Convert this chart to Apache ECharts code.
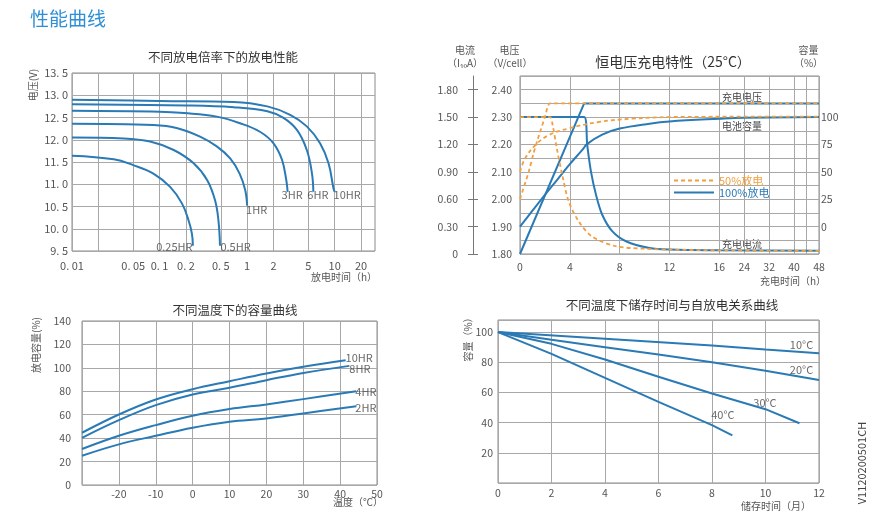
<!DOCTYPE html>
<html><head><meta charset="utf-8">
<script src="https://cdn.jsdelivr.net/npm/echarts@6/dist/echarts.min.js"></script>
<style>html,body{margin:0;padding:0;background:#fff}#c{width:880px;height:518px}</style>
</head><body><div id="c"></div>
<script>
// ================= DATA =================
// Chart 1: 不同放电倍率下的放电性能  [hours, volts]
const rateNames = ['0.25HR', '0.5HR', '1HR', '3HR', '6HR', '10HR'];
const dis025 = [[0.01,11.64],[0.03,11.56],[0.05,11.43],[0.085,11.24],[0.132,10.94],[0.18,10.57],[0.214,10.19],[0.234,9.89],[0.24,9.62]];
const dis05  = [[0.01,12.05],[0.039,12.03],[0.078,11.96],[0.145,11.77],[0.245,11.47],[0.35,11.09],[0.43,10.64],[0.47,10.19],[0.49,9.62]];
const dis1   = [[0.01,12.36],[0.085,12.33],[0.16,12.26],[0.29,12.07],[0.45,11.85],[0.64,11.58],[0.82,11.24],[0.95,10.87],[1.0,10.52]];
const dis3   = [[0.01,12.65],[0.1,12.63],[0.19,12.60],[0.45,12.52],[0.83,12.37],[1.4,12.18],[2.0,11.92],[2.5,11.55],[2.8,11.09],[2.9,10.83]];
const dis6   = [[0.01,12.80],[0.2,12.77],[0.7,12.73],[1.7,12.64],[2.6,12.49],[3.7,12.22],[4.8,11.77],[5.5,11.24],[5.7,10.83]];
const dis10  = [[0.01,12.90],[0.1,12.87],[0.7,12.85],[1.7,12.75],[3.1,12.56],[4.8,12.30],[6.8,11.92],[8.5,11.47],[9.7,10.90],[10,10.83]];
const disTickHours  = [0.01, 0.02, 0.05, 0.1, 0.2, 0.5, 1, 2, 5, 10, 20];
const disLabelHours = [0.01, 0.05, 0.1, 0.2, 0.5, 1, 2, 5, 10, 20];

// Chart 2: 恒电压充电特性(25°C)  [hours, value]
const volt50 = [[0,2.00],[0.35,2.05],[0.7,2.10],[1.1,2.17],[1.5,2.23],[2.0,2.30],[2.4,2.35],[48,2.35]];
const curr50 = [[0,1.5],[2.4,1.5],[2.6,1.43],[2.95,1.16],[3.4,0.86],[3.9,0.58],[4.7,0.36],[5.8,0.19],[7.7,0.085],[10,0.058],[12,0.048],[16,0.04],[48,0.035]];
const cap50  = [[0,50],[0.4,62],[1.2,74],[2.3,83.5],[3.9,89.6],[6.3,95.5],[9,98.5],[12,100],[16,100.3],[48,100.5]];
const volt100 = [[0,1.80],[5.15,2.35],[48,2.35]];
const curr100 = [[0,1.5],[5.15,1.5],[5.4,1.19],[5.7,0.90],[6.1,0.65],[6.6,0.43],[7.4,0.25],[8.5,0.14],[10.4,0.065],[12,0.048],[16,0.04],[48,0.035]];
const cap100  = [[0,0],[1,14.5],[2,29],[3,43],[4,57],[5,70],[5.4,75.5],[6.6,84],[8,89.5],[10.4,94],[12,96],[16,98.5],[24,99.4],[48,100]];
const chgTickHours  = [0, 4, 8, 12, 16, 24, 32, 40, 44, 48];
const chgLabelHours = [0, 4, 8, 12, 16, 24, 32, 40, 48];
const currTicks = [0, 0.3, 0.6, 0.9, 1.2, 1.5, 1.8];
const capTicks  = [0, 25, 50, 75, 100];

// Chart 3: 不同温度下的容量曲线  [°C, %]
const tempNames = ['10HR', '8HR', '4HR', '2HR'];
const tc10 = [[-30,44.6],[-20,60.2],[-10,73],[0,81.8],[10,88.6],[20,95.2],[30,100.9],[41.5,106.5]];
const tc8  = [[-30,40.3],[-20,55.4],[-10,68.2],[0,77.3],[10,83],[20,89.5],[30,95.7],[42.5,101.7]];
const tc4  = [[-30,30.7],[-20,42],[-10,51.1],[0,59.1],[10,64.8],[20,68.8],[30,73.3],[44.4,80.1]];
const tc2  = [[-30,25],[-20,34.7],[-10,42],[0,48.9],[10,54],[20,56.8],[30,61.1],[44.4,67.3]];

// Chart 4: 不同温度下储存时间与自放电关系曲线  [month, %]
const sdNames = ['10°C', '20°C', '30°C', '40°C'];
const sd10 = [[0,100],[4,95.6],[8,91.1],[10,88.4],[12,86]];
const sd20 = [[0,100],[2,94.9],[4,90],[6,85.1],[8,80],[10,74.4],[12,68.2]];
const sd30 = [[0,100],[2,92.2],[4,81.8],[6,70.4],[8,59.3],[10,48.9],[11.27,39.6]];
const sd40 = [[0,100],[2,85.6],[4,69.6],[6,53.8],[8,38.4],[8.76,31.6]];

// ================= STYLE / BUILD =================
const BLUE = '#2a7ab6', ORANGE = '#f0a040', GRIDC = '#a8a8a8', BORDER = '#8a8a8a', LBL = '#555';
const FONT = '"Noto Sans CJK SC", "Noto Sans", sans-serif';
const lg = v => Math.log10(v);
const pos2 = t => t <= 16 ? t : 16 + (t - 16) / 4;
const unpos2 = p => p <= 16 ? p : 16 + (p - 16) * 4;

const chart = echarts.init(document.getElementById('c'), null, {renderer: 'canvas'});

function line(xi, yi, data, opt) {
  return Object.assign({
    type: 'line', xAxisIndex: xi, yAxisIndex: yi, data: data,
    symbol: 'none', showSymbol: false, silent: true, animation: false,
    smooth: 0.4,
    lineStyle: {color: BLUE, width: 2}, itemStyle: {color: BLUE}
  }, opt || {});
}
function tag(xi, yi, pt, text, off) {
  return {
    type: 'scatter', xAxisIndex: xi, yAxisIndex: yi, data: [pt], symbolSize: 1,
    silent: true, animation: false, itemStyle: {color: 'rgba(0,0,0,0)'},
    label: {show: true, formatter: text, position: off, align: 'center', verticalAlign: 'middle',
            color: '#444', fontSize: 11, fontFamily: FONT}
  };
}
const lastOf = a => a[a.length - 1];
const logPts = a => a.map(p => [lg(p[0]), p[1]]);
const chgPts = a => a.map(p => [pos2(p[0]), p[1]]);

function txt(x, y, text, o) {
  return {type: 'text', x: x, y: y, silent: true, rotation: (o && o.rot) || 0,
    style: Object.assign({text: text, fill: '#555', fontSize: 10, fontFamily: FONT,
      align: 'center', verticalAlign: 'middle'}, (o && o.style) || {})};
}

const axLabel = (o) => Object.assign({color: LBL, fontSize: 11, fontFamily: FONT}, o || {});
const split = {show: true, lineStyle: {color: GRIDC, width: 1}};

const disSets = [dis025, dis05, dis1, dis3, dis6, dis10];
const disOff = [[-18, 2], [16, 2], [10, 5], [5, 3], [5, 3], [13, 3]];
const tcSets = [tc10, tc8, tc4, tc2];
const tcOff = [[14, -2], [11, 3], [10, 1], [10, 2]];
const sdSets = [sd10, sd20, sd30, sd40];
const sdOff = [[-17, -8], [-17, -10], [-34, -20], [-9, -20]];

const series = [];
// chart 1
disSets.forEach((d, i) => {
  series.push(line(0, 0, logPts(d), {name: rateNames[i]}));
  const e = lastOf(d);
  series.push(tag(0, 0, [lg(e[0]), e[1]], rateNames[i], disOff[i]));
});
// chart 2 (blue first, orange on top)
series.push(line(1, 1, chgPts(volt100), {name: '100%放电', smooth: false}));
series.push(line(1, 2, chgPts(curr100), {name: '100%放电', smooth: 0.3}));
series.push(line(1, 4, chgPts(cap100), {name: '100%放电', smooth: 0.4}));
const dashed = {color: ORANGE, width: 1.8, type: [4, 3]};
series.push(line(1, 1, chgPts(volt50), {name: '50%放电', smooth: 0.15, lineStyle: dashed, itemStyle: {color: ORANGE}, z: 3}));
series.push(line(1, 2, chgPts(curr50), {name: '50%放电', smooth: 0.3, lineStyle: dashed, itemStyle: {color: ORANGE}, z: 3}));
series.push(line(1, 4, chgPts(cap50), {name: '50%放电', smooth: 0.4, lineStyle: dashed, itemStyle: {color: ORANGE}, z: 3}));
// chart 3
tcSets.forEach((d, i) => {
  series.push(line(2, 5, d, {name: tempNames[i]}));
  series.push(tag(2, 5, lastOf(d), tempNames[i], tcOff[i]));
});
// chart 4
sdSets.forEach((d, i) => {
  series.push(line(3, 6, d, {name: sdNames[i], smooth: false}));
  series.push(tag(3, 6, lastOf(d), sdNames[i], sdOff[i]));
});

const gridBase = {show: true, borderColor: BORDER, borderWidth: 1, backgroundColor: 'transparent'};

const option = {
  animation: false,
  textStyle: {fontFamily: FONT},
  grid: [
    Object.assign({left: 72, top: 73, width: 303, height: 178}, gridBase),
    Object.assign({left: 520, top: 76, width: 299, height: 178}, gridBase),
    Object.assign({left: 82, top: 321, width: 295, height: 164}, gridBase),
    Object.assign({left: 498, top: 320, width: 321, height: 163}, gridBase)
  ],
  xAxis: [
    {type: 'value', gridIndex: 0, min: -2, max: 1.46,
     axisLine: {show: false}, axisTick: {show: false, customValues: disTickHours.map(lg)},
     axisLabel: axLabel({customValues: disLabelHours.map(lg), margin: 9,
       formatter: v => { const t = Math.pow(10, v); return String(+t.toPrecision(2)).replace('.', '. '); }}),
     splitLine: split},
    {type: 'value', gridIndex: 1, min: 0, max: 24,
     axisLine: {show: false}, axisTick: {show: false, customValues: chgTickHours.map(pos2)},
     axisLabel: axLabel({customValues: chgLabelHours.map(pos2), margin: 8, fontSize: 10.5,
       formatter: p => String(Math.round(unpos2(p)))}),
     splitLine: split},
    {type: 'value', gridIndex: 2, min: -30, max: 50, interval: 10,
     axisLine: {show: false}, axisTick: {show: false},
     axisLabel: axLabel({showMinLabel: false, margin: 4, fontSize: 10.5}), splitLine: split},
    {type: 'value', gridIndex: 3, min: 0, max: 12, interval: 2,
     axisLine: {show: false}, axisTick: {show: false},
     axisLabel: axLabel({margin: 5, fontSize: 10.5}), splitLine: split}
  ],
  yAxis: [
    {type: 'value', gridIndex: 0, min: 9.5, max: 13.5, interval: 0.5,
     axisLine: {show: false}, axisTick: {show: false},
     axisLabel: axLabel({margin: 4, formatter: v => v.toFixed(1).replace('.', '. ')}), splitLine: split},
    {type: 'value', gridIndex: 1, min: 1.8, max: 2.45, interval: 0.05,
     axisLine: {show: false}, axisTick: {show: false},
     axisLabel: axLabel({margin: 8, fontSize: 10.5,
       formatter: v => (Math.round(v * 100) % 10 === 0 ? v.toFixed(2) : '')}), splitLine: split},
    {type: 'value', gridIndex: 1, position: 'left', offset: 47, min: 0, max: 1.95,
     axisLine: {show: true, lineStyle: {color: '#777'}},
     axisTick: {show: true, length: 5, customValues: currTicks, lineStyle: {color: '#777'}},
     axisLabel: axLabel({customValues: currTicks, margin: 15, fontSize: 10.5,
       formatter: v => (v === 0 ? '0' : v.toFixed(2))}), splitLine: {show: false}},
    {type: 'value', gridIndex: 1, position: 'left', offset: 47, min: 0, max: 1.95,
     axisLine: {show: false},
     axisTick: {show: true, inside: true, length: 5, customValues: currTicks, lineStyle: {color: '#777'}},
     axisLabel: {show: false}, splitLine: {show: false}},
    {type: 'value', gridIndex: 1, position: 'right', min: -25, max: 137.5, interval: 25,
     axisLine: {show: false}, axisTick: {show: false},
     axisLabel: axLabel({customValues: capTicks, margin: 2, fontSize: 10.5}), splitLine: {show: false}},
    {type: 'value', gridIndex: 2, min: 0, max: 140, interval: 20,
     axisLine: {show: false}, axisTick: {show: false},
     axisLabel: axLabel({margin: 11, fontSize: 10.5}), splitLine: split},
    {type: 'value', gridIndex: 3, min: 0, max: 108, interval: 20,
     axisLine: {show: false}, axisTick: {show: false},
     axisLabel: axLabel({margin: 5, fontSize: 10.5,
       formatter: v => (v === 0 || v > 100 ? '' : String(v))}), splitLine: split}
  ],
  legend: {
    left: 673, top: 175, orient: 'vertical', itemWidth: 40, itemHeight: 10, itemGap: 1, padding: 0,
    selectedMode: false,
    itemStyle: {opacity: 0},
    textStyle: {fontSize: 11, fontFamily: FONT},
    data: [{name: '50%放电', textStyle: {color: ORANGE}}, {name: '100%放电', textStyle: {color: BLUE}}]
  },
  graphic: [
    txt(30, 18.5, '性能曲线', {style: {align: 'left', fontSize: 19, fill: '#2e8fd6'}}),
    txt(223, 57, '不同放电倍率下的放电性能', {style: {fontSize: 12.5, fill: '#333'}}),
    txt(673, 62, '恒电压充电特性（25°C）', {style: {fontSize: 14, fill: '#333'}}),
    txt(235, 310, '不同温度下的容量曲线', {style: {fontSize: 12.5, fill: '#333'}}),
    txt(672, 305, '不同温度下储存时间与自放电关系曲线', {style: {fontSize: 12.5, fill: '#333'}}),
    // axis names
    txt(33.5, 85, '电压(V)', {rot: Math.PI / 2}),
    txt(377, 277, '放电时间（h）', {style: {align: 'right'}}),
    txt(465, 50.5, '电流'),
    txt(465, 63, '（I₁₀A）'),
    txt(509.5, 50.5, '电压'),
    txt(510, 63, '（V/cell）'),
    txt(808.5, 50.5, '容量'),
    txt(808.5, 63.5, '（%）'),
    txt(826, 281, '充电时间（h）', {style: {align: 'right'}}),
    txt(722, 97, '充电电压', {style: {align: 'left', fill: '#444'}}),
    txt(722, 126, '电池容量', {style: {align: 'left', fill: '#444'}}),
    txt(722, 244, '充电电流', {style: {align: 'left', fill: '#444'}}),
    txt(36.5, 345, '放电容量(%)', {rot: Math.PI / 2}),
    txt(383, 502, '温度（℃）', {style: {align: 'right'}}),
    txt(468, 337, '容量（%）', {rot: Math.PI / 2}),
    txt(811, 506, '储存时间（月）', {style: {align: 'right'}}),
    txt(862, 463, 'V1120200501CH', {rot: Math.PI / 2, style: {fontSize: 11, fill: '#444'}})
  ],
  series: series
};
chart.setOption(option);
</script>
</body></html>
